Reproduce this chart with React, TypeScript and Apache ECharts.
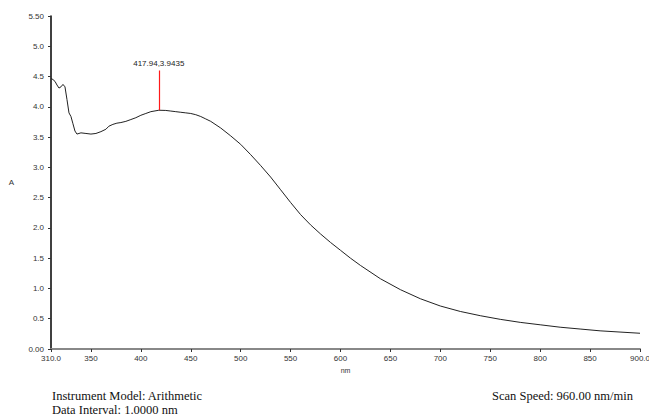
import React, { useEffect, useRef } from "react";
import * as echarts from "echarts";

const wavelengths = [310,312,314,316,318,320,322,324,326,328,330,332,334,336,340,345,350,355,360,365,368,372,376,380,385,390,395,400,405,410,418,425,430,435,440,445,450,455,460,465,470,480,490,500,510,520,530,540,550,560,570,580,590,600,610,620,640,660,680,700,720,740,760,780,800,820,840,860,880,900];
const absorbance = [4.47,4.45,4.42,4.36,4.31,4.33,4.37,4.33,4.12,3.90,3.84,3.72,3.60,3.55,3.57,3.56,3.55,3.56,3.59,3.63,3.68,3.71,3.73,3.74,3.76,3.79,3.82,3.86,3.89,3.92,3.9435,3.94,3.93,3.92,3.91,3.90,3.89,3.87,3.84,3.80,3.76,3.65,3.52,3.38,3.21,3.03,2.84,2.63,2.42,2.22,2.05,1.90,1.76,1.63,1.50,1.38,1.16,0.98,0.83,0.71,0.62,0.55,0.49,0.44,0.40,0.36,0.33,0.30,0.28,0.26];
const xTicks = [310,350,400,450,500,550,600,650,700,750,800,850,900];
const yTicks = [0,0.5,1,1.5,2,2.5,3,3.5,4,4.5,5,5.5];
const peak = [417.94, 3.9435];
const peakTop = 4.6;
const infoLeft = ["Instrument Model: Arithmetic", "Data Interval: 1.0000 nm"];
const infoRight = "Scan Speed: 960.00 nm/min";

export default function App() {
  const ref = useRef<HTMLDivElement>(null);
  useEffect(() => {
    const chart = echarts.init(ref.current!, null, { renderer: "svg" });
    const labelFont = { fontSize: 8, fontFamily: "Liberation Sans", color: "#333" };
    const red = { color: "#ff1a1a", width: 1.2, type: "solid" };
    chart.setOption({
      animation: false,
      backgroundColor: "#fff",
      grid: { left: 51, right: 9, top: 16, bottom: 65, containLabel: false, outerBoundsMode: "none" },
      xAxis: {
        type: "value",
        min: 310,
        max: 900,
        name: "nm",
        nameLocation: "middle",
        nameGap: 18,
        nameTextStyle: { fontSize: 7, fontFamily: "Liberation Sans", color: "#333" },
        axisLine: { lineStyle: { color: "#888", width: 2 } },
        axisTick: { customValues: xTicks, length: 3, lineStyle: { color: "#333" } },
        axisLabel: {
          customValues: xTicks,
          margin: 5,
          ...labelFont,
          formatter: (v: number) => (v === 310 || v === 900 ? v.toFixed(1) : String(v)),
        },
        splitLine: { show: false },
      },
      yAxis: {
        type: "value",
        min: 0,
        max: 5.5,
        name: "A",
        nameLocation: "middle",
        nameGap: 37,
        nameRotate: 0,
        nameTextStyle: { ...labelFont },
        axisLine: { show: true, lineStyle: { color: "#000", width: 1.5 } },
        axisTick: { show: true, customValues: yTicks, length: 3, lineStyle: { color: "#333" } },
        axisLabel: {
          customValues: yTicks,
          margin: 7,
          ...labelFont,
          formatter: (v: number) => (v === 0 || v === 5.5 ? v.toFixed(2) : v.toFixed(1)),
        },
        splitLine: { show: false },
      },
      series: [
        {
          type: "line",
          data: wavelengths.map((w, i) => [w, absorbance[i]]),
          showSymbol: false,
          symbol: "none",
          lineStyle: { color: "#222", width: 1 },
          itemStyle: { color: "#222" },
          markLine: {
            silent: true,
            symbol: "none",
            animation: false,
            lineStyle: red,
            itemStyle: { color: "#ff1a1a" },
            label: {
              show: true,
              position: "end",
              distance: 3,
              formatter: `${peak[0]},${peak[1]}`,
              fontSize: 8,
              fontFamily: "Liberation Sans",
              color: "#222",
            },
            data: [[
              { coord: [peak[0], peak[1]], lineStyle: red },
              { coord: [peak[0], peakTop], lineStyle: red },
            ]],
          },
        },
      ],
      graphic: [
        { type: "text", left: 52, top: 389, style: { text: infoLeft[0], font: "12.5px 'Liberation Serif'", fill: "#111" } },
        { type: "text", left: 52, top: 403, style: { text: infoLeft[1], font: "12.5px 'Liberation Serif'", fill: "#111" } },
        { type: "text", right: 16, top: 389, style: { text: infoRight, font: "12.5px 'Liberation Serif'", fill: "#111" } },
      ],
    });
    return () => chart.dispose();
  }, []);
  return <div ref={ref} style={{ position: "fixed", left: 0, top: 0, width: 649, height: 414 }} />;
}
